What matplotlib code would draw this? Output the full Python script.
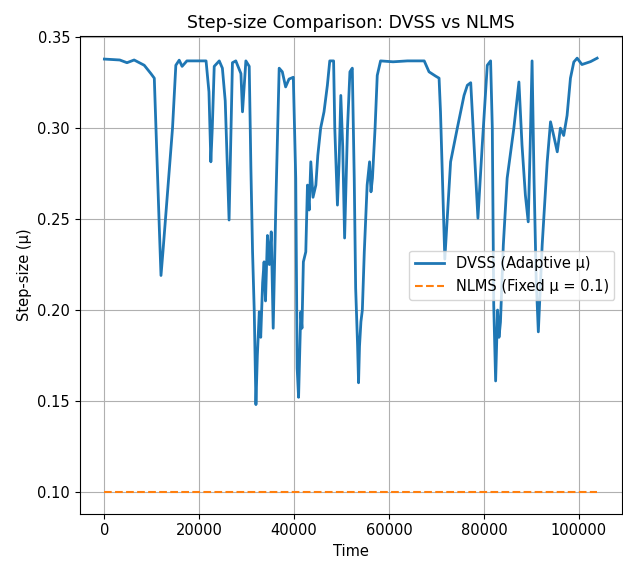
import matplotlib
matplotlib.use("Agg")
import matplotlib.pyplot as plt
import numpy as np

# DVSS adaptive step-size (time index, mu)
dvss_time = [
    0, 3240, 4760, 6270, 8400, 9810, 10520, 10870, 11580, 11930, 12340, 12990,
    14360, 15060, 15770, 16380, 17390, 21430, 22040, 22440, 22740, 23150, 24210,
    24870, 25470, 26280, 26690, 26990, 27700, 28780, 29110, 29820, 30530, 30880,
    31230, 31590, 31940, 32240, 32650, 32950, 33350, 33660, 33960, 34370, 34770,
    35170, 35580, 36180, 36840, 37500, 38200, 38910, 39820, 40330, 40630, 40930,
    41390, 41640, 41940, 42450, 42800, 43160, 43510, 43970, 44570, 44980, 45580,
    46290, 47000, 47500, 48310, 48560, 49120, 49470, 49830, 50230, 50630, 51240,
    51750, 52250, 52660, 52960, 53360, 53570, 53770, 54070, 54370, 54780, 55380,
    55890, 56190, 56500, 57050, 57510, 58210, 60840, 63870, 67410, 68420, 69830,
    70540, 70840, 71250, 71750, 72260, 72970, 74380, 75800, 76500, 77210, 77920,
    78730, 79640, 80700, 81400, 81760, 82060, 82460, 82870, 83170, 83480, 84080,
    84890, 86300, 87370, 88020, 88730, 89330, 89740, 90140, 90550, 91000, 91460,
    92270, 93330, 94030, 94690, 95450, 96110, 96810, 97520, 98230, 98940, 99640,
    100650, 102470, 103850,
]
dvss_mu = [
    0.338, 0.3375, 0.336, 0.3375, 0.3346, 0.330, 0.3275, 0.300, 0.245, 0.219, 0.232, 0.254,
    0.300, 0.3346, 0.3374, 0.334, 0.337, 0.337, 0.320, 0.2815, 0.300, 0.334, 0.337,
    0.333, 0.315, 0.2495, 0.300, 0.336, 0.337, 0.330, 0.309, 0.337, 0.334, 0.278,
    0.232, 0.199, 0.148, 0.175, 0.199, 0.185, 0.215, 0.2265, 0.205, 0.241, 0.225,
    0.243, 0.190, 0.263, 0.333, 0.331, 0.3227, 0.327, 0.328, 0.2725, 0.168, 0.152,
    0.199, 0.190, 0.2265, 0.232, 0.2687, 0.255, 0.2815, 0.262, 0.2687, 0.285, 0.300,
    0.309, 0.3236, 0.337, 0.337, 0.300, 0.2577, 0.2815, 0.318, 0.290, 0.2396, 0.300,
    0.331, 0.333, 0.2725, 0.212, 0.181, 0.160, 0.180, 0.1936, 0.200, 0.232, 0.2687,
    0.2815, 0.265, 0.2725, 0.300, 0.329, 0.337, 0.3365, 0.337, 0.337, 0.331, 0.3286,
    0.3275, 0.309, 0.2725, 0.228, 0.250, 0.2815, 0.300, 0.318, 0.3236, 0.325, 0.2907,
    0.2505, 0.2907, 0.3346, 0.337, 0.300, 0.2027, 0.161, 0.200, 0.185, 0.1934, 0.2357,
    0.2725, 0.300, 0.3254, 0.2907, 0.2632, 0.2485, 0.290, 0.337, 0.2725, 0.2176, 0.188,
    0.2357, 0.2815, 0.3035, 0.296, 0.287, 0.300, 0.296, 0.307, 0.3275, 0.3364, 0.3385,
    0.335, 0.3366, 0.3385,
]

# NLMS fixed step-size
nlms_time = [0, 103850]
nlms_mu = [0.1, 0.1]

plt.rcParams["font.size"] = 10.5

fig, ax = plt.subplots(figsize=(6.23, 5.7), dpi=100)
fig.subplots_adjust(left=0.128, right=0.998, top=0.936, bottom=0.099)

ax.plot(dvss_time, dvss_mu, color="tab:blue", lw=2.0, label="DVSS (Adaptive μ)")
ax.plot(nlms_time, nlms_mu, color="tab:orange", ls="--", lw=1.5,
        label="NLMS (Fixed μ = 0.1)")

ax.set_title("Step-size Comparison: DVSS vs NLMS", fontsize=12.5)
ax.set_xlabel("Time")
ax.set_ylabel("Step-size (μ)")
ax.grid(True)
ax.legend(loc="center right")

fig.savefig("out.png", dpi=100)
